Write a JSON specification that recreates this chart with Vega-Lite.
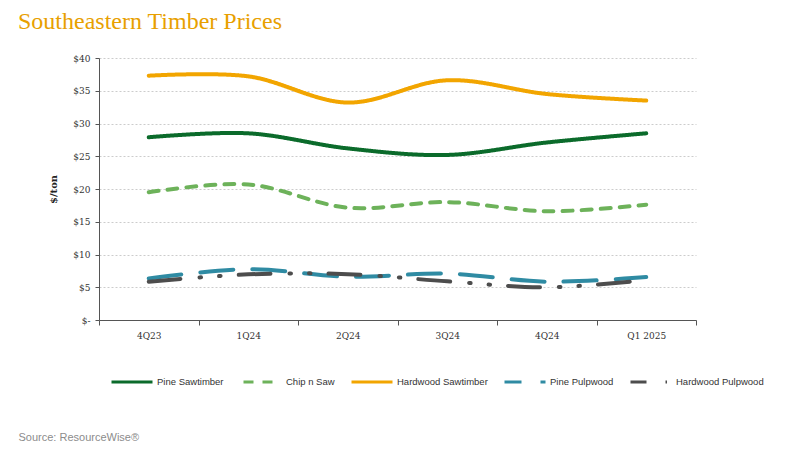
{
  "$schema": "https://vega.github.io/schema/vega-lite/v6.json",
  "autosize": "none",
  "width": 597,
  "height": 262,
  "padding": {"left": 99, "top": 58, "right": 112, "bottom": 136},
  "background": "white",
  "title": {
    "text": "Southeastern Timber Prices",
    "anchor": "start",
    "frame": "group",
    "dx": -81,
    "offset": 20,
    "font": "Liberation Serif",
    "fontSize": 24,
    "fontWeight": "normal",
    "color": "#E8A000"
  },
  "config": {
    "view": {"stroke": null},
    "axis": {"labelFont": "DejaVu Serif", "labelFontSize": 9, "labelColor": "#333333"}
  },
  "data": {
    "values": [
      {"q": "4Q23", "series": "Pine Sawtimber", "v": 27.9},
      {"q": "1Q24", "series": "Pine Sawtimber", "v": 28.5},
      {"q": "2Q24", "series": "Pine Sawtimber", "v": 26.2},
      {"q": "3Q24", "series": "Pine Sawtimber", "v": 25.2},
      {"q": "4Q24", "series": "Pine Sawtimber", "v": 27.1},
      {"q": "Q1 2025", "series": "Pine Sawtimber", "v": 28.5},
      {"q": "4Q23", "series": "Chip n Saw", "v": 19.5},
      {"q": "1Q24", "series": "Chip n Saw", "v": 20.7},
      {"q": "2Q24", "series": "Chip n Saw", "v": 17.15},
      {"q": "3Q24", "series": "Chip n Saw", "v": 18.0},
      {"q": "4Q24", "series": "Chip n Saw", "v": 16.6},
      {"q": "Q1 2025", "series": "Chip n Saw", "v": 17.6},
      {"q": "4Q23", "series": "Hardwood Sawtimber", "v": 37.3},
      {"q": "1Q24", "series": "Hardwood Sawtimber", "v": 37.2},
      {"q": "2Q24", "series": "Hardwood Sawtimber", "v": 33.2},
      {"q": "3Q24", "series": "Hardwood Sawtimber", "v": 36.6},
      {"q": "4Q24", "series": "Hardwood Sawtimber", "v": 34.5},
      {"q": "Q1 2025", "series": "Hardwood Sawtimber", "v": 33.5},
      {"q": "4Q23", "series": "Pine Pulpwood", "v": 6.35},
      {"q": "1Q24", "series": "Pine Pulpwood", "v": 7.75},
      {"q": "2Q24", "series": "Pine Pulpwood", "v": 6.6},
      {"q": "3Q24", "series": "Pine Pulpwood", "v": 7.07},
      {"q": "4Q24", "series": "Pine Pulpwood", "v": 5.85},
      {"q": "Q1 2025", "series": "Pine Pulpwood", "v": 6.55},
      {"q": "4Q23", "series": "Hardwood Pulpwood", "v": 5.85},
      {"q": "1Q24", "series": "Hardwood Pulpwood", "v": 6.97},
      {"q": "2Q24", "series": "Hardwood Pulpwood", "v": 7.0},
      {"q": "3Q24", "series": "Hardwood Pulpwood", "v": 5.9},
      {"q": "4Q24", "series": "Hardwood Pulpwood", "v": 5.0},
      {"q": "Q1 2025", "series": "Hardwood Pulpwood", "v": 6.1}
    ]
  },
  "mark": {"type": "line", "interpolate": "catmull-rom", "strokeWidth": 4, "strokeCap": "round"},
  "encoding": {
    "x": {
      "field": "q",
      "type": "ordinal",
      "sort": ["4Q23", "1Q24", "2Q24", "3Q24", "4Q24", "Q1 2025"],
      "scale": {"paddingInner": 0, "paddingOuter": 0},
      "axis": {
        "title": "Source: ResourceWise®",
        "titleX": -81,
        "titleY": 120,
        "titleAlign": "left",
        "titleBaseline": "alphabetic",
        "titleFont": "Liberation Sans",
        "titleFontSize": 11,
        "titleFontWeight": "normal",
        "titleColor": "#8C8C8C",
        "labelAngle": 0,
        "labelPadding": 6,
        "tickBand": "extent",
        "tickSize": 5,
        "tickColor": "#555555",
        "domainColor": "#555555",
        "grid": false
      }
    },
    "y": {
      "field": "v",
      "type": "quantitative",
      "scale": {"domain": [0, 40], "nice": false},
      "axis": {
        "title": "$/ton",
        "titleFont": "DejaVu Serif",
        "titleFontSize": 10,
        "titleFontWeight": "bold",
        "titleColor": "#222222",
        "titlePadding": 14,
        "values": [0, 5, 10, 15, 20, 25, 30, 35, 40],
        "labelExpr": "datum.value == 0 ? '$-' : '$' + datum.value",
        "labelPadding": 5,
        "tickSize": 4,
        "tickColor": "#555555",
        "domainColor": "#555555",
        "grid": true,
        "gridColor": "#CCCCCC",
        "gridDash": [2, 2],
        "gridWidth": 1
      }
    },
    "color": {
      "field": "series",
      "type": "nominal",
      "scale": {
        "domain": ["Pine Sawtimber", "Chip n Saw", "Hardwood Sawtimber", "Pine Pulpwood", "Hardwood Pulpwood"],
        "range": ["#0B6B2B", "#6DB25A", "#F2A500", "#2F8BA3", "#4D4D4D"]
      },
      "legend": {
        "title": null,
        "orient": "none",
        "legendX": 11,
        "legendY": 302,
        "direction": "horizontal",
        "columns": 5,
        "columnPadding": 10,
        "symbolType": "stroke",
        "symbolSize": 1681,
        "symbolStrokeWidth": 3,
        "symbolDashOffset": 16,
        "labelFont": "Liberation Sans",
        "labelFontSize": 9.5,
        "labelColor": "#333333",
        "labelOffset": 3
      }
    },
    "strokeDash": {
      "field": "series",
      "type": "nominal",
      "scale": {
        "domain": ["Pine Sawtimber", "Chip n Saw", "Hardwood Sawtimber", "Pine Pulpwood", "Hardwood Pulpwood"],
        "range": [[1, 0], [10, 9], [1, 0], [33, 19], [32, 19, 1.5, 18, 1.5, 18]]
      },
      "legend": null
    }
  }
}
